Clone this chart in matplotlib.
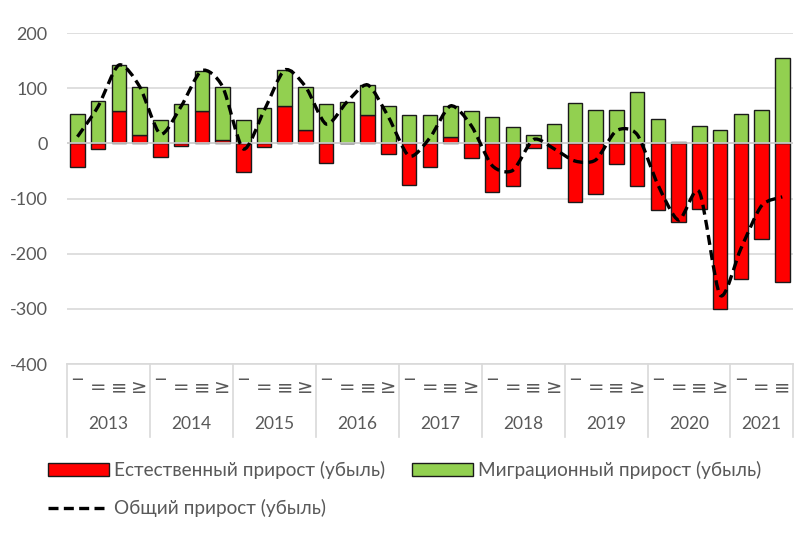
import numpy as np
import matplotlib.pyplot as plt
from matplotlib.path import Path
from matplotlib.patches import PathPatch, Patch
from matplotlib.lines import Line2D

plt.rcParams['font.family'] = ['Lato', 'DejaVu Sans']
plt.rcParams['axes.unicode_minus'] = False

years = ['2013', '2014', '2015', '2016', '2017', '2018', '2019', '2020', '2021']
quarters_per_year = [4, 4, 4, 4, 4, 4, 4, 4, 3]
quarter_marks = ['‾', '=', '≡', '≥']

# естественный прирост (убыль)
natural = [-42, -10, 58, 15, -25, -4, 58, 6, -52, -6, 67, 25,
           -36, 1, 52, -20, -75, -42, 12, -26, -88, -78, -9, -45,
           -106, -91, -38, -78, -120, -142, -119, -300, -245, -174, -252]
# миграционный прирост (убыль)
migration = [54, 77, 84, 88, 42, 71, 74, 97, 42, 65, 66, 78,
             71, 74, 54, 68, 52, 52, 56, 58, 48, 29, 16, 35,
             74, 61, 61, 94, 45, 3, 31, 25, 54, 61, 155]
# общий прирост (убыль)
total = [12, 67, 142, 103, 17, 67, 132, 103, -10, 59, 133, 103,
         35, 75, 106, 48, -23, 10, 68, 32, -40, -49, 7, -10,
         -32, -30, 23, 16, -75, -139, -88, -275, -191, -113, -97]

red = '#FF0000'
green = '#92D050'
grey_text = '#595959'

natural = np.array(natural)
migration = np.array(migration)
total = np.array(total)
x = np.arange(len(natural))

fig = plt.figure(figsize=(8.08, 5.33), dpi=100)
ax = fig.add_axes([0.083, 0.317, 0.898, 0.621])

ax.bar(x, natural, width=0.7, color=red, edgecolor='#1a1a1a', linewidth=1.0, zorder=2)
ax.bar(x, migration, width=0.7, bottom=np.maximum(natural, 0), color=green,
       edgecolor='#1a1a1a', linewidth=1.0, zorder=2)
ax.axhline(0, color='#D0D0D0', linewidth=1.2, zorder=3)

# smoothed line (Bezier through the points, like Excel's smoothed line)
pts = np.column_stack([x, total]).astype(float)
verts = [pts[0]]
codes = [Path.MOVETO]
n = len(pts)
k = 0.13
for i in range(n - 1):
    p0 = pts[i - 1] if i > 0 else pts[i]
    p1 = pts[i]
    p2 = pts[i + 1]
    p3 = pts[i + 2] if i + 2 < n else pts[i + 1]
    verts += [p1 + (p2 - p0) * k, p2 - (p3 - p1) * k, p2]
    codes += [Path.CURVE4] * 3
ax.add_patch(PathPatch(Path(verts, codes), fill=False, edgecolor='black',
                       linewidth=2.4, linestyle=(0, (3, 1.6)), zorder=4))

ax.set_ylim(-400, 200)
ax.set_xlim(-0.5, len(x) - 0.5)
ax.set_yticks(range(-400, 201, 100))
ax.grid(axis='y', color='#D9D9D9', linewidth=1.2, zorder=0)
ax.set_axisbelow(True)
for s in ['top', 'right', 'left']:
    ax.spines[s].set_visible(False)
ax.spines['bottom'].set_color('#D9D9D9')
ax.spines['bottom'].set_linewidth(1.2)
ax.tick_params(axis='y', length=0, labelsize=13, labelcolor=grey_text, pad=14)

labels = []
for q in quarters_per_year:
    labels += quarter_marks[:q]
ax.set_xticks(x)
ax.set_xticklabels(labels, fontsize=14, color=grey_text, family='DejaVu Sans')
ax.tick_params(axis='x', length=0, pad=10)

# year labels and separators
start = 0
bounds = [-0.5]
for yr, q in zip(years, quarters_per_year):
    ax.text(start + (q - 1) / 2, -0.181, yr, transform=ax.get_xaxis_transform(),
            ha='center', va='center', fontsize=12.5, color=grey_text)
    start += q
    bounds.append(start - 0.5)
for b in bounds:
    ax.plot([b, b], [0, -0.22], transform=ax.get_xaxis_transform(),
            color='#D9D9D9', linewidth=1.2, clip_on=False)

handles = [Patch(facecolor=red, edgecolor='#1a1a1a', linewidth=1.0),
           Line2D([0], [0], color='black', linewidth=2.4, linestyle=(0, (3, 1.6))),
           Patch(facecolor=green, edgecolor='#1a1a1a', linewidth=1.0)]
names = ['Естественный прирост (убыль)', 'Общий прирост (убыль)',
         'Миграционный прирост (убыль)']
leg = fig.legend(handles, names, ncol=2, loc='upper left', bbox_to_anchor=(0.038, 0.167),
                 frameon=False, fontsize=13.7, handlelength=3.2, handleheight=0.67,
                 handletextpad=0.26, columnspacing=1.45, labelspacing=1.06)
for t in leg.get_texts():
    t.set_color(grey_text)

fig.savefig('out.png', dpi=100)
